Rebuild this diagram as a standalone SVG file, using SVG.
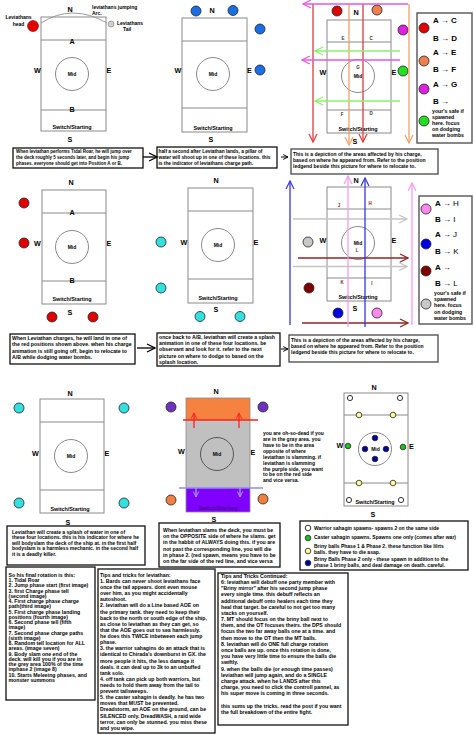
<svg xmlns="http://www.w3.org/2000/svg" width="474" height="735" viewBox="0 0 474 735">
<defs>
<style>
text{font-family:"Liberation Sans",Arial,sans-serif;font-weight:bold;fill:#000}
.L{font-size:7.2px;text-anchor:middle}
.m{font-size:5px;text-anchor:middle}
.sw{font-size:5.4px;text-anchor:middle}
.sm{font-size:4.5px;text-anchor:middle;fill:#333}
.dr{fill:#8b1a1a}
.deck{fill:#fff;stroke:#8a8a8a;stroke-width:1}
.ln{stroke:#8a8a8a;stroke-width:1;fill:none}
.ci{fill:none;stroke:#8a8a8a;stroke-width:1}
.box{fill:#fff;stroke:#111;stroke-width:1.3}
.lg{fill:#fff;stroke:#555;stroke-width:1.4}
.dot{stroke:#222;stroke-width:0.8}
.la{font-size:8px}
.ar{font-weight:normal}
.lt{font-size:5.2px}
.f45{font-size:4.5px}
.f48{font-size:4.8px}
.f50{font-size:5px}
.f52{font-size:5.2px}
.f53{font-size:5.3px}
.a{fill:none;stroke-width:1.3}
</style>
<marker id="mk-k" viewBox="0 0 10 10" refX="9" refY="5" markerWidth="10" markerHeight="10" markerUnits="userSpaceOnUse" orient="auto"><path d="M1,1 L9,5 L1,9" fill="none" stroke="#000" stroke-width="1.3"/></marker>
<marker id="mk-ks" viewBox="0 0 10 10" refX="9" refY="5" markerWidth="6" markerHeight="6" markerUnits="userSpaceOnUse" orient="auto"><path d="M1,1 L9,5 L1,9" fill="none" stroke="#000" stroke-width="1.6"/></marker>
<marker id="mk-red" viewBox="0 0 10 10" refX="9" refY="5" markerWidth="10" markerHeight="10" markerUnits="userSpaceOnUse" orient="auto"><path d="M1,1 L9,5 L1,9" fill="none" stroke="#e23a3a" stroke-width="1.2"/></marker>
<marker id="mk-sal" viewBox="0 0 10 10" refX="9" refY="5" markerWidth="10" markerHeight="10" markerUnits="userSpaceOnUse" orient="auto"><path d="M1,1 L9,5 L1,9" fill="none" stroke="#f2a068" stroke-width="1.2"/></marker>
<marker id="mk-mag" viewBox="0 0 10 10" refX="9" refY="5" markerWidth="10" markerHeight="10" markerUnits="userSpaceOnUse" orient="auto"><path d="M1,1 L9,5 L1,9" fill="none" stroke="#e05ae0" stroke-width="1.2"/></marker>
<marker id="mk-grn" viewBox="0 0 10 10" refX="9" refY="5" markerWidth="10" markerHeight="10" markerUnits="userSpaceOnUse" orient="auto"><path d="M1,1 L9,5 L1,9" fill="none" stroke="#8cf06a" stroke-width="1.2"/></marker>
<marker id="mk-blu" viewBox="0 0 10 10" refX="9" refY="5" markerWidth="10" markerHeight="10" markerUnits="userSpaceOnUse" orient="auto"><path d="M1,1 L9,5 L1,9" fill="none" stroke="#3535e0" stroke-width="1.2"/></marker>
<marker id="mk-pnk" viewBox="0 0 10 10" refX="9" refY="5" markerWidth="10" markerHeight="10" markerUnits="userSpaceOnUse" orient="auto"><path d="M1,1 L9,5 L1,9" fill="none" stroke="#f59cef" stroke-width="1.2"/></marker>
<marker id="mk-gry" viewBox="0 0 10 10" refX="9" refY="5" markerWidth="10" markerHeight="10" markerUnits="userSpaceOnUse" orient="auto"><path d="M1,1 L9,5 L1,9" fill="none" stroke="#c4c4c4" stroke-width="1.2"/></marker>
<marker id="mk-drd" viewBox="0 0 10 10" refX="9" refY="5" markerWidth="10" markerHeight="10" markerUnits="userSpaceOnUse" orient="auto"><path d="M1,1 L9,5 L1,9" fill="none" stroke="#8e2424" stroke-width="1.2"/></marker>
<marker id="mk-rr" viewBox="0 0 10 10" refX="9" refY="5" markerWidth="7" markerHeight="7" markerUnits="userSpaceOnUse" orient="auto"><path d="M1,1 L9,5 L1,9" fill="none" stroke="#ff2020" stroke-width="1.4"/></marker>
<marker id="mk-lav" viewBox="0 0 10 10" refX="9" refY="5" markerWidth="7" markerHeight="7" markerUnits="userSpaceOnUse" orient="auto"><path d="M1,1 L9,5 L1,9" fill="none" stroke="#a59cf7" stroke-width="1.4"/></marker>
</defs>
<rect width="474" height="735" fill="#fff"/>

<!-- Row 1 -->
<g id="p1-jump">
<rect class="deck" x="41" y="17" width="65" height="114"/>
<path class="ln" d="M41,40H106M41,110H106"/>
<circle class="ci" cx="72" cy="74" r="16.5"/>
<path d="M41,23 Q72,3 107,23" fill="none" stroke="#9a9a9a" stroke-width="1"/>
<circle cx="33" cy="26" r="5.5" fill="#e00000" stroke="#900" stroke-width="0.6"/>
<circle cx="111" cy="24" r="3" fill="#d0d0d0" stroke="#888" stroke-width="0.7"/>
<text class="f50" x="18.5" y="19" text-anchor="middle">Leviathans</text>
<text class="f50" x="18.5" y="25.5" text-anchor="middle">head</text>
<text class="f50" x="92" y="9">leviathans jumping</text>
<text class="f50" x="92" y="15">Arc.</text>
<text class="f50" x="117" y="25">Leviathans</text>
<text class="f50" x="123" y="31">Tail</text>
<text class="L" x="70" y="11.5">N</text>
<text class="L" x="72" y="44">A</text>
<text class="L" x="72" y="112">B</text>
<text class="L" x="37.5" y="72.5">W</text>
<text class="L" x="109" y="72.5">E</text>
<text class="m" x="72" y="75.7">Mid</text>
<text class="sw" x="72" y="129">Switch/Starting</text>
<text class="L" x="70" y="141.5">S</text>
</g>

<g id="p2-tell">
<rect class="deck" x="182" y="18" width="65" height="114"/>
<path class="ln" d="M182,41H247M182,108H247"/>
<circle class="ci" cx="213" cy="74" r="16.5"/>
<circle class="dot" cx="196" cy="11" r="5" fill="#1a6ee6"/>
<circle class="dot" cx="233" cy="10.5" r="5" fill="#1a6ee6"/>
<circle class="dot" cx="260" cy="29" r="5" fill="#1a6ee6"/>
<circle class="dot" cx="260" cy="70" r="5" fill="#1a6ee6"/>
<text class="L" x="212" y="12.5">N</text>
<text class="L" x="178" y="73">W</text>
<text class="L" x="249.5" y="73">E</text>
<text class="m" x="213" y="75.7">Mid</text>
<text class="sw" x="213" y="130">Switch/Starting</text>
<text class="L" x="211" y="142">S</text>
</g>

<g id="p3-paths">
<rect class="deck" x="327" y="20" width="64" height="113"/>
<path class="ln" d="M327,42H391M327,110H391"/>
<circle class="ci" cx="358" cy="76" r="16.5"/>
<text class="sm" x="343" y="40">E</text>
<text class="sm" x="371" y="40">C</text>
<text class="sm" x="358" y="69">G</text>
<text class="sm" x="342" y="116">F</text>
<text class="sm" x="371" y="115">D</text>
<text class="m" x="358" y="78">Mid</text>
<text class="L" x="356" y="14.5">N</text>
<text class="L" x="323" y="74.5">W</text>
<text class="L" x="394" y="74.5">E</text>
<text class="sw" x="358" y="131">Switch/Starting</text>
<text class="L" x="355" y="143.5">S</text>
<circle class="dot" cx="337" cy="11" r="5" fill="#e00000"/>
<circle class="dot" cx="377" cy="10" r="5" fill="#f08050"/>
<circle class="dot" cx="403" cy="30" r="5" fill="#e020e0"/>
<circle class="dot" cx="403" cy="71" r="5" fill="#20e020"/>
<path class="a" stroke="#e23a3a" d="M313,4V142" marker-end="url(#mk-red)"/>
<path class="a" stroke="#e23a3a" d="M363,4V142" marker-end="url(#mk-red)"/>
<path class="a" stroke="#f2a068" d="M349,4V145" marker-end="url(#mk-sal)"/>
<path class="a" stroke="#f2a068" d="M409,4V143" marker-end="url(#mk-sal)"/>
<path class="a" stroke="#e05ae0" d="M408,4H303" marker-end="url(#mk-mag)"/>
<path class="a" stroke="#e05ae0" d="M400,60H302" marker-end="url(#mk-mag)"/>
<path class="a" stroke="#8cf06a" d="M400,51H315" marker-end="url(#mk-grn)"/>
<path class="a" stroke="#8cf06a" d="M400,101H315" marker-end="url(#mk-grn)"/>
</g>

<g id="legend-1">
<rect class="lg" x="417" y="13" width="55" height="130"/>
<circle class="dot" cx="424" cy="28" r="5" fill="#e00000"/>
<circle class="dot" cx="424" cy="61" r="5" fill="#f08050"/>
<circle class="dot" cx="424" cy="89" r="5" fill="#e020e0"/>
<circle class="dot" cx="424" cy="121" r="5" fill="#20e020"/>
<text class="la" x="433" y="23">A <tspan class="ar">→</tspan> C</text>
<text class="la" x="433" y="41">B <tspan class="ar">→</tspan> D</text>
<text class="la" x="433" y="55">A <tspan class="ar">→</tspan> E</text>
<text class="la" x="433" y="72">B <tspan class="ar">→</tspan> F</text>
<text class="la" x="433" y="87">A <tspan class="ar">→</tspan> G</text>
<text class="la" x="433" y="104">B <tspan class="ar">→</tspan></text>
<text class="lt" x="432"><tspan x="432" y="112.5">your's safe if</tspan><tspan x="432" y="119">spawned</tspan><tspan x="432" y="125">here. focus</tspan><tspan x="432" y="131">on dodging</tspan><tspan x="432" y="137">water bombs</tspan></text>
</g>

<g id="note-1a">
<rect class="box" x="13" y="148" width="130" height="20"/>
<text class="f45"><tspan x="16" y="152.8">When leviathan performs Tidal Roar, he will jump over</tspan><tspan x="16" y="158.8">the deck roughly 5 seconds later, and begin his jump</tspan><tspan x="16" y="164.8">phases. everyone should get into Position A or B.</tspan></text>
</g>
<g id="note-1b">
<rect class="box" x="157" y="147" width="120" height="21"/>
<text class="f48"><tspan x="158.5" y="153.4">half a second after Leviathan lands, a pillar of</tspan><tspan x="158.5" y="159">water will shoot up in one of these locations. this</tspan><tspan x="158.5" y="165">is the indicator of leviathans charge path.</tspan></text>
</g>
<g id="note-1c">
<rect class="lg" x="291" y="149" width="147" height="25"/>
<text class="f50"><tspan x="293" y="155.7">This is a depiction of the areas affected by his charge,</tspan><tspan x="293" y="161.7">based on where he appeared from. Refer to the position</tspan><tspan x="293" y="167.5">ledgend beside this picture for where to relocate to.</tspan></text>
</g>

<!-- Row 2 -->
<g id="p4-landing">
<rect class="deck" x="42" y="190" width="64" height="114"/>
<path class="ln" d="M42,213H106M42,281H106"/>
<circle class="ci" cx="72" cy="247" r="16.5"/>
<circle class="dot" cx="24" cy="203" r="5" fill="#e00000"/>
<circle class="dot" cx="24" cy="243" r="5" fill="#e00000"/>
<circle class="dot" cx="52" cy="317" r="5" fill="#e00000"/>
<circle class="dot" cx="93" cy="317" r="5" fill="#e00000"/>
<text class="L" x="71" y="184.5">N</text>
<text class="L" x="72" y="214.5">A</text>
<text class="L" x="72" y="283">B</text>
<text class="L" x="37.5" y="245.5">W</text>
<text class="L" x="109" y="245.5">E</text>
<text class="m" x="72" y="248.7">Mid</text>
<text class="sw" x="72" y="301">Switch/Starting</text>
<text class="L" x="70" y="314.5">S</text>
</g>

<g id="p5-splash">
<rect class="deck" x="188" y="188" width="65" height="115"/>
<path class="ln" d="M188,211H253M188,279H253"/>
<circle class="ci" cx="218" cy="245" r="16.5"/>
<circle class="dot" cx="161" cy="242" r="5" fill="#33e0e0"/>
<circle class="dot" cx="161" cy="288" r="5" fill="#33e0e0"/>
<circle class="dot" cx="200" cy="316.5" r="5" fill="#33e0e0"/>
<circle class="dot" cx="240" cy="316.5" r="5" fill="#33e0e0"/>
<text class="L" x="216" y="182.5">N</text>
<text class="L" x="184" y="244.5">W</text>
<text class="L" x="256" y="244.5">E</text>
<text class="m" x="218" y="246.7">Mid</text>
<text class="sw" x="218" y="300">Switch/Starting</text>
<text class="L" x="216" y="312">S</text>
</g>

<g id="p6-paths">
<rect class="deck" x="327" y="187" width="64" height="114"/>
<path class="ln" d="M327,209H391M327,278H391"/>
<circle class="ci" cx="358" cy="243" r="16.5"/>
<text class="sm dr" x="339" y="207">J</text>
<text class="sm dr" x="370" y="205">H</text>
<text class="m" x="358" y="244.5">Mid</text>
<text class="sm dr" x="357" y="252">L</text>
<text class="sm dr" x="342" y="284">K</text>
<text class="sm dr" x="372" y="285">I</text>
<text class="L" x="356" y="183">N</text>
<text class="L" x="323" y="242.5">W</text>
<text class="L" x="394" y="242.5">E</text>
<text class="sw" x="358" y="298.5">Switch/Starting</text>
<text class="L" x="355" y="310.5">S</text>
<circle class="dot" cx="308" cy="242" r="5" fill="#c8c8c8"/>
<circle class="dot" cx="309" cy="288" r="5" fill="#800000"/>
<circle class="dot" cx="338" cy="313" r="5" fill="#0000e0"/>
<circle class="dot" cx="377" cy="313" r="5" fill="#ff88ee"/>
<path class="a" stroke="#c4c4c4" d="M293,219H407" marker-end="url(#mk-gry)"/>
<path class="a" stroke="#c4c4c4" d="M293,266.5H407" marker-end="url(#mk-gry)"/>
<path class="a" stroke="#8e2424" d="M298,258H408" marker-end="url(#mk-drd)"/>
<path class="a" stroke="#8e2424" d="M302,323H408" marker-end="url(#mk-drd)"/>
<path class="a" stroke="#3535e0" d="M290,325V181" marker-end="url(#mk-blu)"/>
<path class="a" stroke="#3535e0" d="M365,327V178" marker-end="url(#mk-blu)"/>
<path class="a" stroke="#f59cef" d="M348,327V176" marker-end="url(#mk-pnk)"/>
<path class="a" stroke="#f59cef" d="M412,325V183" marker-end="url(#mk-pnk)"/>
</g>

<g id="legend-2">
<rect class="lg" x="419" y="196" width="53" height="128"/>
<circle class="dot" cx="426" cy="209" r="5" fill="#ff88ee"/>
<circle class="dot" cx="426" cy="244" r="5" fill="#0000e0"/>
<circle class="dot" cx="426" cy="271" r="5" fill="#800000"/>
<circle class="dot" cx="426" cy="304" r="5" fill="#c8c8c8"/>
<text class="la" x="435" y="206">A <tspan class="ar">→ H</tspan></text>
<text class="la" x="435" y="222">B <tspan class="ar">→ I</tspan></text>
<text class="la" x="435" y="237">A <tspan class="ar">→ J</tspan></text>
<text class="la" x="435" y="254">B <tspan class="ar">→ K</tspan></text>
<text class="la" x="435" y="270">A <tspan class="ar">→</tspan></text>
<text class="la" x="435" y="286">B <tspan class="ar">→ L</tspan></text>
<text class="lt"><tspan x="434" y="295">your's safe if</tspan><tspan x="434" y="301">spawned</tspan><tspan x="434" y="307">here. focus</tspan><tspan x="434" y="313.5">on dodging</tspan><tspan x="434" y="319.5">water bombs</tspan></text>
</g>

<g id="note-2a">
<rect class="box" x="10" y="334" width="125" height="30"/>
<text class="f52"><tspan x="12" y="340">When Leviathan charges, he will land in one of</tspan><tspan x="12" y="346.2">the red positions shown above. when his charge</tspan><tspan x="12" y="352.6">animation is still going off, begin to relocate to</tspan><tspan x="12" y="359">A/B while dodging water bombs.</tspan></text>
</g>
<g id="note-2b">
<rect class="box" x="157" y="333" width="123" height="33"/>
<text class="f52"><tspan x="159" y="338.5">once back to A/B, leviathan will create a splash</tspan><tspan x="159" y="344.6">animation in one of these four locations. be</tspan><tspan x="159" y="351">observant and look for it. refer to the next</tspan><tspan x="159" y="357.5">picture on where to dodge to based on the</tspan><tspan x="159" y="364">splash location.</tspan></text>
</g>
<g id="note-2c">
<rect class="lg" x="289" y="335" width="149" height="27"/>
<text class="f50"><tspan x="291" y="341.7">This is a depiction of the areas affected by his charge,</tspan><tspan x="291" y="347.9">based on where he appeared from. Refer to the position</tspan><tspan x="291" y="354.3">ledgend beside this picture for where to relocate to.</tspan></text>
</g>

<!-- Row 3 -->
<g id="p7-random">
<rect class="deck" x="40" y="399" width="64" height="114"/>
<path class="ln" d="M40,422H104M40,490H104"/>
<circle class="ci" cx="71" cy="456" r="16.5"/>
<circle class="dot" cx="19" cy="408" r="5" fill="#33e0e0"/>
<circle class="dot" cx="124" cy="408" r="5" fill="#33e0e0"/>
<circle class="dot" cx="19" cy="503" r="5" fill="#33e0e0"/>
<circle class="dot" cx="124" cy="503" r="5" fill="#33e0e0"/>
<text class="L" x="70" y="395.5">N</text>
<text class="L" x="35.5" y="455.5">W</text>
<text class="L" x="107" y="455.5">E</text>
<text class="m" x="71" y="457.7">Mid</text>
<text class="sw" x="70" y="511">Switch/Starting</text>
<text class="L" x="68" y="524.5">S</text>
</g>

<g id="p8-slam">
<rect x="186" y="398" width="64" height="22" fill="#f5823f"/>
<rect x="186" y="420" width="64" height="68" fill="#c0c0c0"/>
<rect x="186" y="488" width="64" height="24" fill="#8000ff"/>
<rect x="186" y="398" width="64" height="114" fill="none" stroke="#8a8a8a" stroke-width="0.8"/>
<circle cx="217" cy="454" r="16.5" fill="none" stroke="#555" stroke-width="1"/>
<path d="M183,420H258" stroke="#ff2020" stroke-width="1.4"/>
<path d="M179,488H263" stroke="#8c8cf0" stroke-width="1.4"/>
<path class="a" stroke="#ff2020" d="M194,428V413" marker-end="url(#mk-rr)"/>
<path class="a" stroke="#ff2020" d="M239,428V413" marker-end="url(#mk-rr)"/>
<path class="a" stroke="#a59cf7" d="M196,488V497" marker-end="url(#mk-lav)"/>
<path class="a" stroke="#a59cf7" d="M240,488V497" marker-end="url(#mk-lav)"/>
<circle class="dot" cx="171" cy="407" r="5" fill="#7030c0"/>
<circle class="dot" cx="263" cy="407" r="5" fill="#7030c0"/>
<circle class="dot" cx="171" cy="500" r="5" fill="#f08040"/>
<circle class="dot" cx="263" cy="499" r="5" fill="#f08040"/>
<text class="L" x="216" y="394">N</text>
<text class="L" x="181.5" y="453.5">W</text>
<text class="L" x="253" y="454.5">E</text>
<text class="m" x="217" y="455.7">Mid</text>
<text class="sw" x="218" y="510" style="fill:#4b0090">Switch/Starting</text>
<text class="L" x="214" y="521.5">S</text>
<text class="f50"><tspan x="263" y="435">you are oh-so-dead if you</tspan><tspan x="263" y="441">are in the gray area. you</tspan><tspan x="263" y="447">have to be in the area</tspan><tspan x="263" y="452.8">opposite of where</tspan><tspan x="263" y="458.7">leviathan is slamming. if</tspan><tspan x="263" y="464.6">leviathan is slamming</tspan><tspan x="263" y="470.5">the purple side, you want</tspan><tspan x="263" y="476.4">to be on the red side</tspan><tspan x="263" y="482.3">and vice versa.</tspan></text>
</g>

<g id="p9-spawns">
<rect class="deck" x="344" y="393" width="64" height="113"/>
<path class="ln" d="M344,415H408M344,483H408"/>
<circle class="ci" cx="375" cy="449" r="16.5"/>
<circle class="dot" cx="375" cy="438" r="2.8" fill="#0000a0"/>
<circle class="dot" cx="375" cy="459" r="2.8" fill="#0000a0"/>
<circle class="dot" cx="365" cy="449" r="2.8" fill="#0000a0"/>
<circle class="dot" cx="386" cy="449" r="2.8" fill="#0000a0"/>
<text class="m" x="375.5" y="450.7">Mid</text>
<circle class="dot" cx="359" cy="415" r="2.8" fill="#ffff99"/>
<circle class="dot" cx="393" cy="415" r="2.8" fill="#ffff99"/>
<circle class="dot" cx="359" cy="483" r="2.8" fill="#ffff99"/>
<circle class="dot" cx="393" cy="483" r="2.8" fill="#ffff99"/>
<circle class="dot" cx="348" cy="446" r="2.8" fill="#20c020"/>
<circle class="dot" cx="403" cy="447" r="2.8" fill="#20c020"/>
<circle cx="350" cy="398" r="2.6" fill="#fff" stroke="#333" stroke-width="1"/>
<circle cx="400" cy="398" r="2.6" fill="#fff" stroke="#333" stroke-width="1"/>
<circle cx="349" cy="500" r="2.6" fill="#fff" stroke="#333" stroke-width="1"/>
<circle cx="401" cy="500" r="2.6" fill="#fff" stroke="#333" stroke-width="1"/>
<text class="L" x="374" y="389.5">N</text>
<text class="L" x="340" y="447.5">W</text>
<text class="L" x="411.5" y="448.5">E</text>
<text class="sw" x="375" y="503.5">Switch/Starting</text>
<text class="L" x="373" y="516.5">S</text>
</g>

<g id="note-3a">
<rect class="box" x="7" y="526" width="138" height="39"/>
<text class="f50"><tspan x="12" y="533.5">Leviathan will create a splash of water in one of</tspan><tspan x="12" y="539">these four locations. this is his indicator for where he</tspan><tspan x="12" y="544.5">will bodyslam the deck of the ship at. in the first half</tspan><tspan x="12" y="550">bodyslam is a harmless mechanic. in the second half</tspan><tspan x="12" y="555.5">it is a deadly killer.</tspan></text>
</g>
<g id="note-3b">
<rect class="box" x="159" y="523" width="121" height="44"/>
<text class="f52"><tspan x="163" y="531.8">When leviathan slams the deck, you must be</tspan><tspan x="163" y="538.1">on the OPPOSITE side of where he slams. get</tspan><tspan x="163" y="544.4">in the habbit of ALWAYS doing this. if you are</tspan><tspan x="163" y="550.7">not past the corresponding line, you will die</tspan><tspan x="163" y="557">in phase 2. (red spawn, means you have to be</tspan><tspan x="163" y="563.3">on the far side of the red line, and vice versa</tspan></text>
</g>
<g id="legend-3">
<rect class="box" x="300" y="521" width="168" height="49"/>
<circle cx="308" cy="528" r="2.8" fill="#fff" stroke="#333" stroke-width="1"/>
<circle class="dot" cx="308" cy="538" r="2.8" fill="#20c020"/>
<circle class="dot" cx="308" cy="551" r="2.8" fill="#ffff99"/>
<circle class="dot" cx="308" cy="563" r="2.8" fill="#0000a0"/>
<text class="f50"><tspan x="314" y="529.5">Warrior sahagin spawns- spawns 2 on the same side</tspan><tspan x="314" y="539">Caster sahagin spawns. Spawns one only (comes after war)</tspan><tspan x="314" y="547.8">Briny balls Phase 1 &amp; Phase 2. these function like lilrts</tspan><tspan x="314" y="554">balls. they have to die asap.</tspan><tspan x="314" y="561">Briny Balls Phase 2 only - these spawn in addition to the</tspan><tspan x="314" y="567.4">phase 1 briny balls, and deal damage on death. careful.</tspan></text>
</g>

<!-- Bottom notes -->
<g id="note-rotation">
<rect class="box" x="6" y="567" width="89" height="133"/>
<text class="f52">
<tspan x="8.5" y="576.8">So his final rotation is this:</tspan>
<tspan x="8.5" y="582.05">1. Tidal Roar</tspan>
<tspan x="8.5" y="587.3">2. Jump phase start (first image)</tspan>
<tspan x="8.5" y="592.55">3. first Charge phase tell</tspan>
<tspan x="8.5" y="597.8">(second image)</tspan>
<tspan x="8.5" y="603.05">4. First charge phase charge</tspan>
<tspan x="8.5" y="608.3">path(third image)</tspan>
<tspan x="8.5" y="613.55">5. First charge phase landing</tspan>
<tspan x="8.5" y="618.8">positions (fourth image)</tspan>
<tspan x="8.5" y="624.05">6. Second phase tell (fifth</tspan>
<tspan x="8.5" y="629.3">image)</tspan>
<tspan x="8.5" y="634.55">7. Second phase charge paths</tspan>
<tspan x="8.5" y="639.8">(sixth image)</tspan>
<tspan x="8.5" y="645.05">8. Random tell location for ALL</tspan>
<tspan x="8.5" y="650.3">areas. (image seven)</tspan>
<tspan x="8.5" y="655.55">9. Body slam one end of the</tspan>
<tspan x="8.5" y="660.8">deck. will kill you if you are in</tspan>
<tspan x="8.5" y="666.05">the grey area 100% of the time</tspan>
<tspan x="8.5" y="671.3">inphase 2 (image 8)</tspan>
<tspan x="8.5" y="676.55">10. Starts Meleeing phases, and</tspan>
<tspan x="8.5" y="681.8">monster summons</tspan>
</text>
</g>

<g id="note-tips">
<rect class="box" x="98" y="569" width="117" height="164"/>
<text class="f52">
<tspan x="100" y="576.8">Tips and tricks for leviathan:</tspan>
<tspan x="100" y="582.9">1. Bards can never shoot leviathans face</tspan>
<tspan x="100" y="589">once the tail appears. dont even mouse</tspan>
<tspan x="100" y="595.2">over him, as you might accidentally</tspan>
<tspan x="100" y="601.3">autoshoot.</tspan>
<tspan x="100" y="607.4">2. leviathan will do a Line based AOE on</tspan>
<tspan x="100" y="613.5">the primary tank. they need to keep their</tspan>
<tspan x="100" y="619.6">back to the north or south edge of the ship,</tspan>
<tspan x="100" y="625.8">as close to leviathan as they can get, so</tspan>
<tspan x="100" y="631.9">that the AOE goes out to sea harmlessly.</tspan>
<tspan x="100" y="638">he does this TWICE inbetween each jump</tspan>
<tspan x="100" y="644.1"> phase.</tspan>
<tspan x="100" y="650.2">3. the warrior sahagins do an attack that is</tspan>
<tspan x="100" y="656.4">identical to Chirada's downburst in GX. the</tspan>
<tspan x="100" y="662.5">more people it hits, the less damage it</tspan>
<tspan x="100" y="668.6">deals. it can deal up to 3k to an unbuffed</tspan>
<tspan x="100" y="674.7">tank solo.</tspan>
<tspan x="100" y="680.8">4. off tank can pick up both warriors, but</tspan>
<tspan x="100" y="687">needs to hold them away from the tail to</tspan>
<tspan x="100" y="693.1">prevent tailsweeps.</tspan>
<tspan x="100" y="699.2">5. the caster sahagin is deadly. he has two</tspan>
<tspan x="100" y="705.3">moves that MUST be prevented.</tspan>
<tspan x="100" y="711.4">Dreadstorm, an AOE on the ground, can be</tspan>
<tspan x="100" y="717.6">SILENCED only. DreadWASH, a raid wide</tspan>
<tspan x="100" y="723.7">terror, can only be stunned. you miss these</tspan>
<tspan x="100" y="729.8"> and you wipe.</tspan>
</text>
</g>

<g id="note-tips-2">
<rect class="box" x="218" y="573" width="130" height="152"/>
<text class="f52">
<tspan x="221" y="577.8">Tips and Tricks Continued:</tspan>
<tspan x="221" y="584">6: leviathan will debuff one party member with</tspan>
<tspan x="221" y="590.2">"Briny mirror" after his second jump phase</tspan>
<tspan x="221" y="596.3">every single time. this debuff reflects an</tspan>
<tspan x="221" y="602.5">additional debuff onto healers each time they</tspan>
<tspan x="221" y="608.7">heal that target. be careful to not get too many</tspan>
<tspan x="221" y="614.9">stacks on yourself.</tspan>
<tspan x="221" y="621.1">7. MT should focus on the briny ball next to</tspan>
<tspan x="221" y="627.2">them, and the OT focuses theirs. the DPS should</tspan>
<tspan x="221" y="633.4">focus the two far away balls one at a time. and</tspan>
<tspan x="221" y="639.6">then move to the OT then the MT balls.</tspan>
<tspan x="221" y="645.8">8. leviathan will do ONE full charge rotation</tspan>
<tspan x="221" y="652">once balls are up. once this rotation is done,</tspan>
<tspan x="221" y="658.1">you have very little time to ensure the balls die</tspan>
<tspan x="221" y="664.3">swiftly.</tspan>
<tspan x="221" y="670.5">9. when the balls die (or enough time passes)</tspan>
<tspan x="221" y="676.7">leviathan will jump again, and do a SINGLE</tspan>
<tspan x="221" y="682.9">charge attack. when he LANDS after this</tspan>
<tspan x="221" y="689">charge, you need to click the controll pannel, as</tspan>
<tspan x="221" y="695.2">his super move is coming in three seconds.</tspan>
<tspan x="221" y="707.6">this sums up the tricks. read the post if you want</tspan>
<tspan x="221" y="713.8">the full breakdown of the entire fight.</tspan>
</text>
</g>

<g id="connectors">
<path d="M143,157H157" stroke="#000" stroke-width="1.3" marker-end="url(#mk-k)"/>
<path d="M281,157H288" stroke="#000" stroke-width="1" marker-end="url(#mk-ks)"/>
<path d="M137,348H155" stroke="#000" stroke-width="1.3" marker-end="url(#mk-k)"/>
<path d="M281,349H288" stroke="#000" stroke-width="1" marker-end="url(#mk-ks)"/>
</g>
</svg>
